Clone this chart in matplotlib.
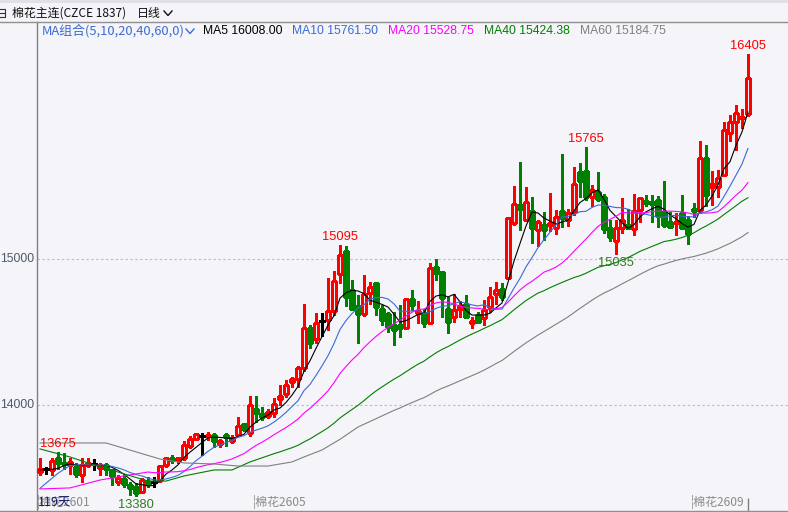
import matplotlib
matplotlib.use("Agg")
import matplotlib.pyplot as plt
from matplotlib.lines import Line2D
import numpy as np
import pandas as pd

CJK = ['Noto Sans CJK SC', 'DejaVu Sans']
NUM = ['Liberation Sans', 'DejaVu Sans']
plt.rcParams['font.family'] = CJK

# ---------------- data (daily OHLC, 119 sessions) ----------------
opens = [13540, 13560, 13555, 13640, 13605, 13590, 13575, 13520, 13590, 13595,
         13570, 13590, 13555, 13475, 13495, 13450, 13440, 13405, 13475, 13475,
         13485, 13590, 13640, 13625, 13635, 13720, 13770, 13790, 13785, 13795,
         13735, 13795, 13755, 13795, 13870, 13805, 13975, 13940, 13925, 13945,
         14040, 14075, 14155, 14175, 14250, 14530, 14455, 14575, 14585, 14645,
         14895, 15055, 14790, 14680, 14620, 14765, 14835, 14660, 14625, 14550,
         14550, 14530, 14725, 14630, 14630, 14560, 14945, 14910, 14655, 14600,
         14655, 14690, 14560, 14615, 14595, 14670, 14760, 14795, 14870, 15245,
         15370, 15270, 15330, 15200, 15235, 15235, 15215, 15330, 15265, 15325,
         15595, 15605, 15425, 15460, 15425, 15210, 15120, 15210, 15235, 15205,
         15335, 15395, 15390, 15405, 15325, 15250, 15245, 15315, 15265, 15340,
         15335, 15695, 15490, 15495, 15575, 15865, 15940, 15965, 15995]
highs = [13635, 13575, 13635, 13675, 13670, 13635, 13600, 13635, 13635, 13630,
         13600, 13600, 13565, 13520, 13520, 13475, 13465, 13500, 13510, 13510,
         13590, 13645, 13660, 13645, 13750, 13785, 13810, 13805, 13815, 13805,
         13770, 13805, 13795, 13915, 13880, 14065, 14065, 13985, 13975, 14045,
         14135, 14170, 14195, 14265, 14695, 14550, 14630, 14630, 14870, 14915,
         15095, 15090, 14855, 14755, 14890, 14840, 14845, 14685, 14640, 14635,
         14685, 14730, 14790, 14715, 14660, 14970, 15000, 14915, 14740, 14760,
         14715, 14750, 14605, 14640, 14720, 14810, 14840, 14835, 15290, 15500,
         15665, 15495, 15425, 15265, 15325, 15450, 15335, 15720, 15345, 15630,
         15655, 15765, 15505, 15595, 15445, 15265, 15265, 15415, 15345, 15445,
         15425, 15440, 15440, 15430, 15535, 15325, 15315, 15440, 15295, 15380,
         15810, 15780, 15605, 15610, 15940, 15985, 16055, 16030, 16405]
lows = [13520, 13530, 13520, 13565, 13565, 13530, 13510, 13475, 13575, 13555,
        13520, 13520, 13450, 13450, 13440, 13385, 13380, 13395, 13440, 13440,
        13475, 13575, 13600, 13600, 13625, 13705, 13760, 13660, 13760, 13715,
        13715, 13720, 13740, 13785, 13820, 13785, 13885, 13895, 13910, 13920,
        14000, 14055, 14125, 14125, 14230, 14390, 14425, 14470, 14515, 14615,
        14835, 14675, 14650, 14425, 14610, 14695, 14615, 14550, 14500, 14410,
        14465, 14525, 14650, 14560, 14535, 14555, 14855, 14605, 14495, 14570,
        14605, 14595, 14530, 14565, 14550, 14640, 14695, 14720, 14860, 15235,
        15200, 15260, 15110, 15090, 15130, 15195, 15170, 15220, 15225, 15300,
        15425, 15405, 15365, 15400, 15175, 15125, 15035, 15175, 15210, 15165,
        15255, 15360, 15255, 15220, 15220, 15210, 15165, 15205, 15105, 15290,
        15315, 15360, 15370, 15425, 15565, 15805, 15745, 15900, 15980]
closes = [13560, 13560, 13615, 13600, 13595, 13610, 13530, 13590, 13605, 13595,
          13590, 13560, 13515, 13500, 13460, 13430, 13395, 13485, 13460, 13475,
          13580, 13635, 13625, 13635, 13725, 13765, 13800, 13790, 13795, 13750,
          13755, 13780, 13775, 13855, 13835, 14000, 13945, 13920, 13955, 14010,
          14065, 14135, 14175, 14250, 14530, 14425, 14560, 14575, 14645, 14850,
          15030, 14740, 14660, 14625, 14760, 14805, 14670, 14585, 14535, 14515,
          14530, 14725, 14685, 14645, 14560, 14935, 14905, 14730, 14570, 14650,
          14680, 14605, 14575, 14570, 14650, 14740, 14790, 14740, 15280, 15375,
          15345, 15390, 15215, 15250, 15200, 15245, 15290, 15280, 15315, 15515,
          15535, 15425, 15475, 15410, 15205, 15150, 15210, 15270, 15215, 15330,
          15415, 15385, 15375, 15295, 15235, 15220, 15255, 15210, 15170, 15330,
          15695, 15440, 15515, 15555, 15885, 15935, 16000, 15975, 16240]

# moving-average values before enough history is visible
ma5_head_idx = [0, 1, 2, 3]
ma5_head_val = [13555, 13557, 13560, 13565]
ma10_head_idx = [0, 1, 2, 3, 4, 5, 6, 7, 8]
ma10_head_val = [13429, 13464, 13498, 13532, 13560, 13585, 13589, 13589, 13589]
ma20_head_idx = [0, 5, 10, 14, 18]
ma20_head_val = [13425, 13432, 13486, 13514, 13541]
ma40_head_idx = [0, 5, 8, 13, 18, 21, 24, 29, 32, 35]
ma40_head_val = [13699, 13644, 13603, 13541, 13479, 13479, 13514, 13555, 13555, 13610]
ma60_head_idx = [0, 11, 20, 24, 29, 33, 38, 42, 44, 47, 50, 53]
ma60_head_val = [13740, 13740, 13630, 13603, 13596, 13582, 13582, 13610, 13644, 13692, 13765, 13849]

ma_periods = [5, 10, 20, 40, 60]
ma_colors = ['#000000', '#3A6BD6', '#FF00FF', '#008000', '#808080']
ma_header = ['MA5 16008.00', 'MA10 15761.50', 'MA20 15528.75', 'MA40 15424.38', 'MA60 15184.75']

ytick_vals = [14000, 15000]
xlabel_idx = [0, 36, 109]
xlabel_txt = ['棉花2601', '棉花2605', '棉花2609']
high_mark_idx = [3, 50, 91, 118]
low_mark_idx = [16, 96]

title_txt = '棉花主连(CZCE 1837)'
period_txt = '日线'
ma_group_txt = 'MA组合(5,10,20,40,60,0)'
count_txt = '119天'

# ---------------- figure ----------------
W, H = 788, 512
BG = '#F4F4F9'
RED = '#FF0000'
GREEN = '#008000'

fig = plt.figure(figsize=(W / 100, H / 100), dpi=100, facecolor=BG)


def fx(px):
    return px / W


def fy(py):
    return 1 - py / H


ax = fig.add_axes([fx(37), fy(511), fx(788) - fx(37), fy(22) - fy(511)])
ax.set_facecolor(BG)
n = len(closes)
idx = np.arange(n)
o = np.array(opens, float)
hh = np.array(highs, float)
ll = np.array(lows, float)
c = np.array(closes, float)

ax.set_xlim(-0.5, 124.67)
ax.set_ylim(13274, 16623)
for s in ['right', 'top', 'bottom']:
    ax.spines[s].set_visible(False)
ax.spines['left'].set_color('#808080')
ax.spines['left'].set_linewidth(1.0)
ax.set_xticks([])
ax.set_yticks([])

for lvl in ytick_vals:
    ax.axhline(lvl, color='#BDBDC4', lw=0.8, ls=(0, (2.2, 2.2)), zorder=1)
    ax.annotate(str(lvl), (0, lvl), xycoords=('axes fraction', 'data'),
                xytext=(-2, 0), textcoords='offset points', ha='right', va='center',
                fontsize=8.8, family=NUM, color='#4A5A6A', annotation_clip=False)

# candles
up = c > o
dn = c < o
fl = c == o
wick_col = np.where(up, RED, np.where(dn, GREEN, '#000000'))
ax.vlines(idx, ll, hh, colors=wick_col, lw=1.0, zorder=2, antialiased=False)
lo_b = np.minimum(o, c)
hgt = np.abs(c - o)
ax.bar(idx[up], hgt[up], bottom=lo_b[up], width=0.72, facecolor=BG, edgecolor=RED,
       linewidth=1.0, zorder=3, antialiased=False)
ax.bar(idx[dn], hgt[dn], bottom=lo_b[dn], width=0.72, facecolor=GREEN, edgecolor=GREEN,
       linewidth=1.0, zorder=3, antialiased=False)
ax.hlines(c[fl], idx[fl] - 0.42, idx[fl] + 0.42, colors='#000000', lw=1.0, zorder=3,
          antialiased=False)

# moving averages
cs = pd.Series(closes, dtype=float)
heads = [(ma5_head_idx, ma5_head_val), (ma10_head_idx, ma10_head_val),
         (ma20_head_idx, ma20_head_val), (ma40_head_idx, ma40_head_val),
         (ma60_head_idx, ma60_head_val)]
for p, col, (hi_, hv_) in zip(ma_periods, ma_colors, heads):
    comp = cs.rolling(p).mean()
    xs = list(hi_) + list(range(p - 1, n))
    ys = list(hv_) + list(comp.iloc[p - 1:])
    ax.plot(xs, ys, color=col, lw=0.8, zorder=4)

# extreme labels
for i in high_mark_idx:
    ax.annotate(str(highs[i]), (i, highs[i]), xytext=(0, 1.5), textcoords='offset points',
                ha='center', va='bottom', fontsize=9.3, family=NUM, color=RED, zorder=6)
for i in low_mark_idx:
    ax.annotate(str(lows[i]), (i, lows[i]), xytext=(0, -2.5), textcoords='offset points',
                ha='center', va='top', fontsize=9.3, family=NUM, color='#2F7D20', zorder=6)

# x labels (contract markers)
for i, t in zip(xlabel_idx, xlabel_txt):
    ax.annotate('¦' + t, (i - 0.5, 0), xycoords=('data', 'axes fraction'),
                xytext=(0, 1.5), textcoords='offset points', ha='left', va='bottom',
                fontsize=8.6, family=CJK, color='#8A8A8A', zorder=6)
ax.vlines([n - 1], 13274, 13274 + 13 * 6.85, colors='#808080', lw=1.0, zorder=6)
ax.annotate(count_txt, (0, 0), xycoords='axes fraction', xytext=(0.5, 1.5),
            textcoords='offset points', ha='left', va='bottom', fontsize=9,
            family=CJK, color='#1A1A66', zorder=7)

# frame lines
fig.add_artist(Line2D([0, 1], [fy(22), fy(22)], color='#909090', lw=1.0))
fig.add_artist(Line2D([0, 1], [fy(511), fy(511)], color='#909090', lw=1.0))
fig.add_artist(plt.Rectangle((0, fy(3)), 1, 3 / H, color='#E0E0E6', lw=0))

# header
fig.add_artist(Line2D([fx(0), fx(5), fx(5), fx(0)], [fy(9), fy(9), fy(17), fy(17)],
                      color='#333333', lw=0.8))
fig.add_artist(Line2D([fx(0), fx(4)], [fy(13), fy(13)], color='#333333', lw=0.8))
fig.text(fx(12), fy(13.5), title_txt, fontsize=8.6, va='center', ha='left',
         color='#111111', family=CJK)
fig.text(fx(137), fy(13.5), period_txt, fontsize=8.6, va='center', ha='left',
         color='#111111', family=CJK)
fig.add_artist(Line2D([fx(164), fx(168), fx(172)], [fy(11), fy(15.5), fy(11)],
                      color='#111111', lw=1.0))

fig.text(fx(41.5), fy(31), ma_group_txt, fontsize=9.3, va='center', ha='left',
         color='#3A6BD6', family=CJK)
fig.add_artist(Line2D([fx(186), fx(190), fx(194)], [fy(29), fy(33.5), fy(29)],
                      color='#3A6BD6', lw=1.0))
hdr_x = [203, 292, 388, 484, 580]
for xx, t, col in zip(hdr_x, ma_header, ma_colors):
    fig.text(fx(xx), fy(31), t, fontsize=8.7, va='center', ha='left', color=col, family=NUM)

fig.savefig('out.png', dpi=100, facecolor=BG)
